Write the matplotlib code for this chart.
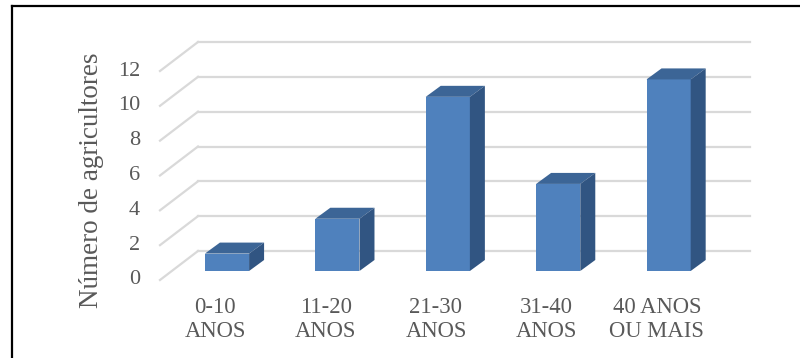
import matplotlib
matplotlib.use("Agg")
import matplotlib.pyplot as plt
from matplotlib.patches import Polygon
from matplotlib.lines import Line2D
import matplotlib.transforms as mtransforms

categories = ["0-10\nANOS", "11-20\nANOS", "21-30\nANOS", "31-40\nANOS", "40 ANOS\nOU MAIS"]
values = [1, 3, 10, 5, 11]
yticks = [0, 2, 4, 6, 8, 10, 12]
ylabel = "Número de agricultores"

plt.rcParams["font.family"] = ["Liberation Serif", "DejaVu Serif"]

FRONT = "#4F81BD"
TOP = "#3C6596"
SIDE = "#315582"
GRID = "#D9D9D9"
TEXT = "#595959"

fig = plt.figure(figsize=(8.0, 3.58), dpi=100)
ax = fig.add_axes([171.8 / 800, 87 / 358, 552 / 800, 209 / 358])
ax.set_xlim(-0.5, len(categories) - 0.5)
ax.set_ylim(0, 12)
ax.axis("off")

# pseudo-3D offsets in pixels (display units)
wall_dx, wall_dy = 26.2, 20.0     # back wall relative to bar fronts
floor_dx, floor_dy = -11.8, -9.0  # front floor edge relative to bar fronts
bar_dx, bar_dy = 15.0, 11.0       # bar depth

wall_tr = mtransforms.offset_copy(ax.transData, fig, x=wall_dx, y=wall_dy, units="dots")
floor_tr = mtransforms.offset_copy(ax.transData, fig, x=floor_dx, y=floor_dy, units="dots")

x0, x1 = ax.get_xlim()
for t in yticks:
    # back wall gridline
    ax.add_line(Line2D([x0, x1], [t, t], transform=wall_tr, color=GRID, lw=1.6,
                       clip_on=False, zorder=1))
    # side wall diagonal
    p_front = floor_tr.transform((x0, t))
    p_back = wall_tr.transform((x0, t))
    ax.add_line(Line2D([p_front[0], p_back[0]], [p_front[1], p_back[1]], transform=None,
                       color=GRID, lw=1.6, clip_on=False, zorder=1))
    ax.text(p_front[0] - 20, p_front[1], str(t), transform=None, ha="right", va="center",
            fontsize=16, color=TEXT)

width = 0.4
xs = list(range(len(categories)))
ax.bar(xs, values, width=width, color=FRONT, zorder=3, clip_on=False)

to_data = ax.transData.inverted()
ox, oy = to_data.transform((bar_dx, bar_dy)) - to_data.transform((0, 0))
for x, v in zip(xs, values):
    l, r = x - width / 2, x + width / 2
    top = Polygon([(l, v), (r, v), (r + ox, v + oy), (l + ox, v + oy)],
                  closed=True, facecolor=TOP, edgecolor="none", zorder=3, clip_on=False)
    side = Polygon([(r, 0), (r + ox, oy), (r + ox, v + oy), (r, v)],
                   closed=True, facecolor=SIDE, edgecolor="none", zorder=3, clip_on=False)
    ax.add_patch(top)
    ax.add_patch(side)

for x, lab in zip(xs, categories):
    p = floor_tr.transform((x, 0))
    ax.text(p[0], p[1] - 17, lab, transform=None, ha="center", va="top",
            fontsize=16.3, color=TEXT, linespacing=1.18)

fig.text(92 / 800, 1 - 180 / 358, ylabel, rotation=90, ha="center", va="center",
         fontsize=19.5, color=TEXT)

# frame around the chart (left and top edges)
fig.add_artist(Line2D([12 / 800, 12 / 800], [0, 1 - 6 / 358], transform=fig.transFigure,
                      color="black", lw=1.6))
fig.add_artist(Line2D([12 / 800, 1], [1 - 6 / 358, 1 - 6 / 358], transform=fig.transFigure,
                      color="black", lw=1.6))

fig.savefig("out.png", dpi=100, facecolor="white")
